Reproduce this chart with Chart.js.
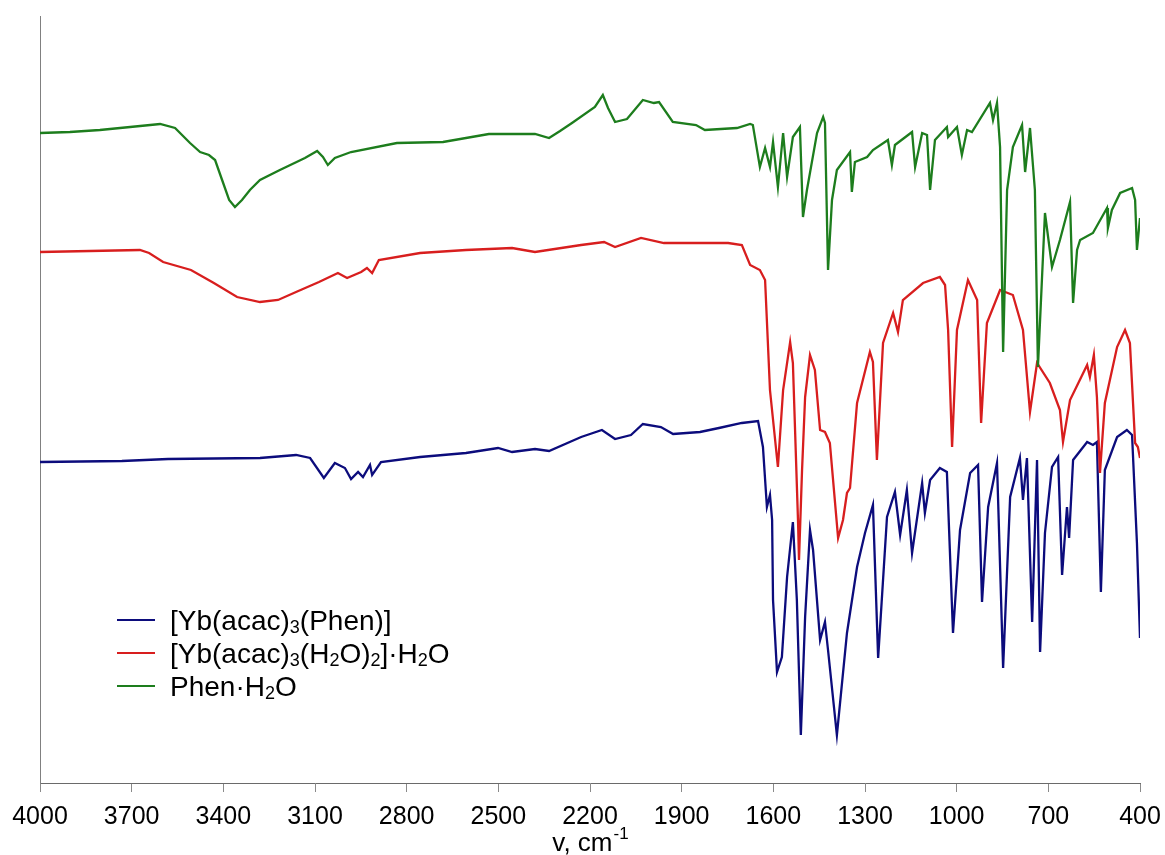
<!DOCTYPE html>
<html>
<head>
<meta charset="utf-8">
<script src="https://cdn.jsdelivr.net/npm/chart.js@4.4.1/dist/chart.umd.min.js"></script>
<style>
  html, body { margin: 0; padding: 0; background: #ffffff; }
  #wrap { width: 1165px; height: 855px; }
</style>
</head>
<body>
<div id="wrap"><canvas id="c" width="1165" height="855"></canvas></div>
<script>
// ---- Data (wavenumber, cm-1, and offset transmittance in arbitrary units) ----
const seriesNames = ['[Yb(acac)\u2083(Phen)]', '[Yb(acac)\u2083(H\u2082O)\u2082]\u00B7H\u2082O', 'Phen\u00B7H\u2082O'];
const seriesColors = ['#0c0c7c', '#d81e1e', '#1d7d1d'];
const xTickValues = [4000, 3700, 3400, 3100, 2800, 2500, 2200, 1900, 1600, 1300, 1000, 700, 400];
const axisTitle = 'v, cm';
const axisTitleSup = '-1';

const wnBlue = [4000, 3732, 3581, 3280, 3162, 3116, 3071, 3035, 3002, 2982, 2959, 2943, 2920, 2913, 2884, 2756, 2606, 2501, 2455, 2380, 2334, 2229, 2161, 2118, 2066, 2027, 1968, 1928, 1840, 1778, 1703, 1650, 1634, 1621, 1611, 1604, 1601, 1588, 1572, 1555, 1536, 1523, 1510, 1496, 1480, 1470, 1447, 1431, 1421, 1392, 1359, 1326, 1300, 1274, 1257, 1228, 1202, 1185, 1163, 1146, 1113, 1104, 1087, 1055, 1032, 1012, 989, 956, 930, 917, 897, 868, 848, 825, 793, 783, 770, 753, 737, 727, 711, 688, 668, 655, 639, 632, 619, 573, 554, 541, 528, 515, 475, 443, 426, 410, 400];
const tBlue = [321, 322, 324, 325, 328, 325, 305, 320, 315, 304, 311, 306, 318, 308, 321, 326, 330, 335, 331, 334, 332, 346, 353, 344, 348, 359, 356, 349, 351, 355, 360, 362, 336, 276, 288, 263, 183, 111, 126, 206, 261, 183, 48, 166, 253, 233, 143, 161, 133, 48, 150, 216, 250, 278, 125, 266, 291, 248, 293, 230, 300, 270, 303, 315, 311, 150, 253, 310, 318, 181, 276, 320, 115, 286, 325, 283, 325, 161, 323, 131, 250, 316, 326, 208, 276, 245, 323, 341, 338, 341, 191, 313, 346, 353, 348, 240, 145];

const wnRed = [4000, 3673, 3643, 3597, 3506, 3431, 3355, 3280, 3221, 3162, 3087, 3025, 2995, 2949, 2930, 2913, 2891, 2756, 2606, 2455, 2380, 2229, 2154, 2118, 2033, 1958, 1853, 1748, 1703, 1676, 1644, 1627, 1611, 1585, 1568, 1545, 1536, 1519, 1516, 1506, 1496, 1480, 1464, 1447, 1431, 1415, 1388, 1372, 1359, 1349, 1326, 1284, 1274, 1261, 1241, 1208, 1192, 1176, 1110, 1055, 1038, 1028, 1015, 999, 963, 933, 920, 901, 858, 816, 783, 760, 737, 695, 662, 652, 629, 573, 564, 551, 541, 531, 515, 475, 449, 433, 416, 407, 400];
const tRed = [531, 533, 530, 521, 513, 500, 486, 481, 483, 491, 501, 510, 505, 511, 515, 510, 523, 530, 533, 535, 531, 538, 541, 536, 545, 540, 540, 540, 538, 518, 513, 503, 393, 316, 393, 441, 420, 260, 223, 313, 386, 428, 413, 353, 351, 340, 245, 263, 290, 295, 380, 431, 421, 323, 440, 470, 451, 483, 500, 506, 498, 453, 336, 453, 503, 483, 360, 460, 493, 488, 453, 371, 420, 400, 373, 341, 383, 418, 406, 428, 386, 310, 380, 436, 453, 440, 340, 336, 325];

const wnGreen = [4000, 3902, 3804, 3705, 3607, 3558, 3509, 3476, 3447, 3427, 3404, 3381, 3362, 3339, 3313, 3280, 3215, 3133, 3093, 3074, 3058, 3035, 2982, 2832, 2681, 2531, 2380, 2334, 2298, 2259, 2184, 2158, 2141, 2118, 2079, 2027, 1991, 1974, 1929, 1853, 1824, 1719, 1676, 1667, 1644, 1627, 1611, 1601, 1585, 1568, 1555, 1536, 1513, 1503, 1490, 1457, 1437, 1431, 1421, 1408, 1392, 1349, 1343, 1333, 1293, 1274, 1225, 1212, 1202, 1146, 1136, 1113, 1097, 1087, 1071, 1032, 1028, 999, 983, 966, 950, 891, 881, 868, 858, 848, 835, 816, 786, 776, 760, 744, 734, 721, 711, 688, 662, 629, 619, 606, 596, 554, 508, 505, 492, 465, 426, 416, 410, 400];
const tGreen = [650, 651, 653, 656, 659, 655, 640, 631, 628, 623, 603, 583, 576, 583, 593, 603, 613, 625, 632, 626, 618, 625, 631, 640, 641, 649, 649, 645, 652, 660, 676, 688, 675, 661, 664, 683, 680, 681, 661, 658, 653, 655, 659, 658, 616, 635, 616, 641, 596, 650, 606, 646, 656, 566, 593, 650, 666, 660, 513, 583, 613, 631, 591, 621, 626, 633, 643, 618, 638, 651, 616, 650, 648, 593, 643, 656, 646, 656, 628, 653, 651, 680, 663, 680, 636, 431, 593, 636, 658, 611, 655, 593, 416, 503, 570, 516, 543, 581, 480, 533, 543, 550, 575, 555, 573, 590, 595, 583, 533, 565];

const Y_MAX = 767;

function toPoints(xs, ys) { return xs.map((x, i) => ({ x: x, y: ys[i] })); }

const FONT = "'Liberation Sans', Arial, sans-serif";
const SUBS = { '\u2080': '0', '\u2081': '1', '\u2082': '2', '\u2083': '3', '\u2084': '4' };

function drawRich(ctx, text, x, y, size) {
  let cx = x;
  for (const ch of text) {
    if (SUBS[ch] !== undefined) {
      ctx.font = Math.round(size * 0.66) + 'px ' + FONT;
      ctx.fillText(SUBS[ch], cx, y + size * 0.1);
      cx += ctx.measureText(SUBS[ch]).width;
    } else {
      ctx.font = size + 'px ' + FONT;
      ctx.fillText(ch, cx, y);
      cx += ctx.measureText(ch).width;
    }
  }
  return cx;
}

const decorPlugin = {
  id: 'decor',
  afterDraw(chart) {
    const ctx = chart.ctx;
    ctx.save();
    ctx.textBaseline = 'alphabetic';
    // legend
    const rowsY = [620, 653, 686];
    for (let i = 0; i < seriesNames.length; i++) {
      ctx.strokeStyle = seriesColors[i];
      ctx.lineWidth = 2;
      ctx.beginPath();
      ctx.moveTo(117, rowsY[i]);
      ctx.lineTo(155, rowsY[i]);
      ctx.stroke();
      ctx.fillStyle = '#000000';
      drawRich(ctx, seriesNames[i], 170, rowsY[i] + 10, 28);
    }
    // axis title
    const xs = chart.scales.x;
    const cxm = (xs.left + xs.right) / 2;
    ctx.fillStyle = '#000000';
    ctx.font = '26px ' + FONT;
    const w1 = ctx.measureText(axisTitle).width;
    ctx.font = '17px ' + FONT;
    const w2 = ctx.measureText(axisTitleSup).width;
    const sx = cxm - (w1 + w2) / 2;
    ctx.font = '26px ' + FONT;
    ctx.fillText(axisTitle, sx, 851);
    ctx.font = '17px ' + FONT;
    ctx.fillText(axisTitleSup, sx + w1 + 1, 839);
    ctx.restore();
  }
};

new Chart(document.getElementById('c'), {
  type: 'line',
  data: {
    datasets: [
      { label: seriesNames[0], data: toPoints(wnBlue, tBlue), borderColor: seriesColors[0], order: 3 },
      { label: seriesNames[1], data: toPoints(wnRed, tRed), borderColor: seriesColors[1], order: 2 },
      { label: seriesNames[2], data: toPoints(wnGreen, tGreen), borderColor: seriesColors[2], order: 1 }
    ]
  },
  options: {
    responsive: false,
    animation: false,
    elements: {
      line: { borderWidth: 2.3, tension: 0, fill: false },
      point: { radius: 0, hoverRadius: 0 }
    },
    layout: { padding: { left: 32, top: 16, right: 25, bottom: 13 } },
    plugins: { legend: { display: false }, tooltip: { enabled: false } },
    scales: {
      x: {
        type: 'linear',
        reverse: true,
        min: 400,
        max: 4000,
        afterBuildTicks(scale) { scale.ticks = xTickValues.map(v => ({ value: v })); },
        ticks: {
          color: '#000000', font: { family: FONT, size: 25, lineHeight: 1.76 }, padding: 3, maxRotation: 0, autoSkip: false,
          callback: (v) => String(v)
        },
        grid: { display: true, drawOnChartArea: false, drawTicks: true, tickLength: 9, color: '#8a8a8a', lineWidth: 1 },
        border: { display: true, color: '#6a6a6a', width: 1 }
      },
      y: {
        min: 0,
        max: Y_MAX,
        ticks: { display: false },
        grid: { display: false },
        border: { display: true, color: '#808080', width: 1 }
      }
    }
  },
  plugins: [decorPlugin]
});
</script>
</body>
</html>
